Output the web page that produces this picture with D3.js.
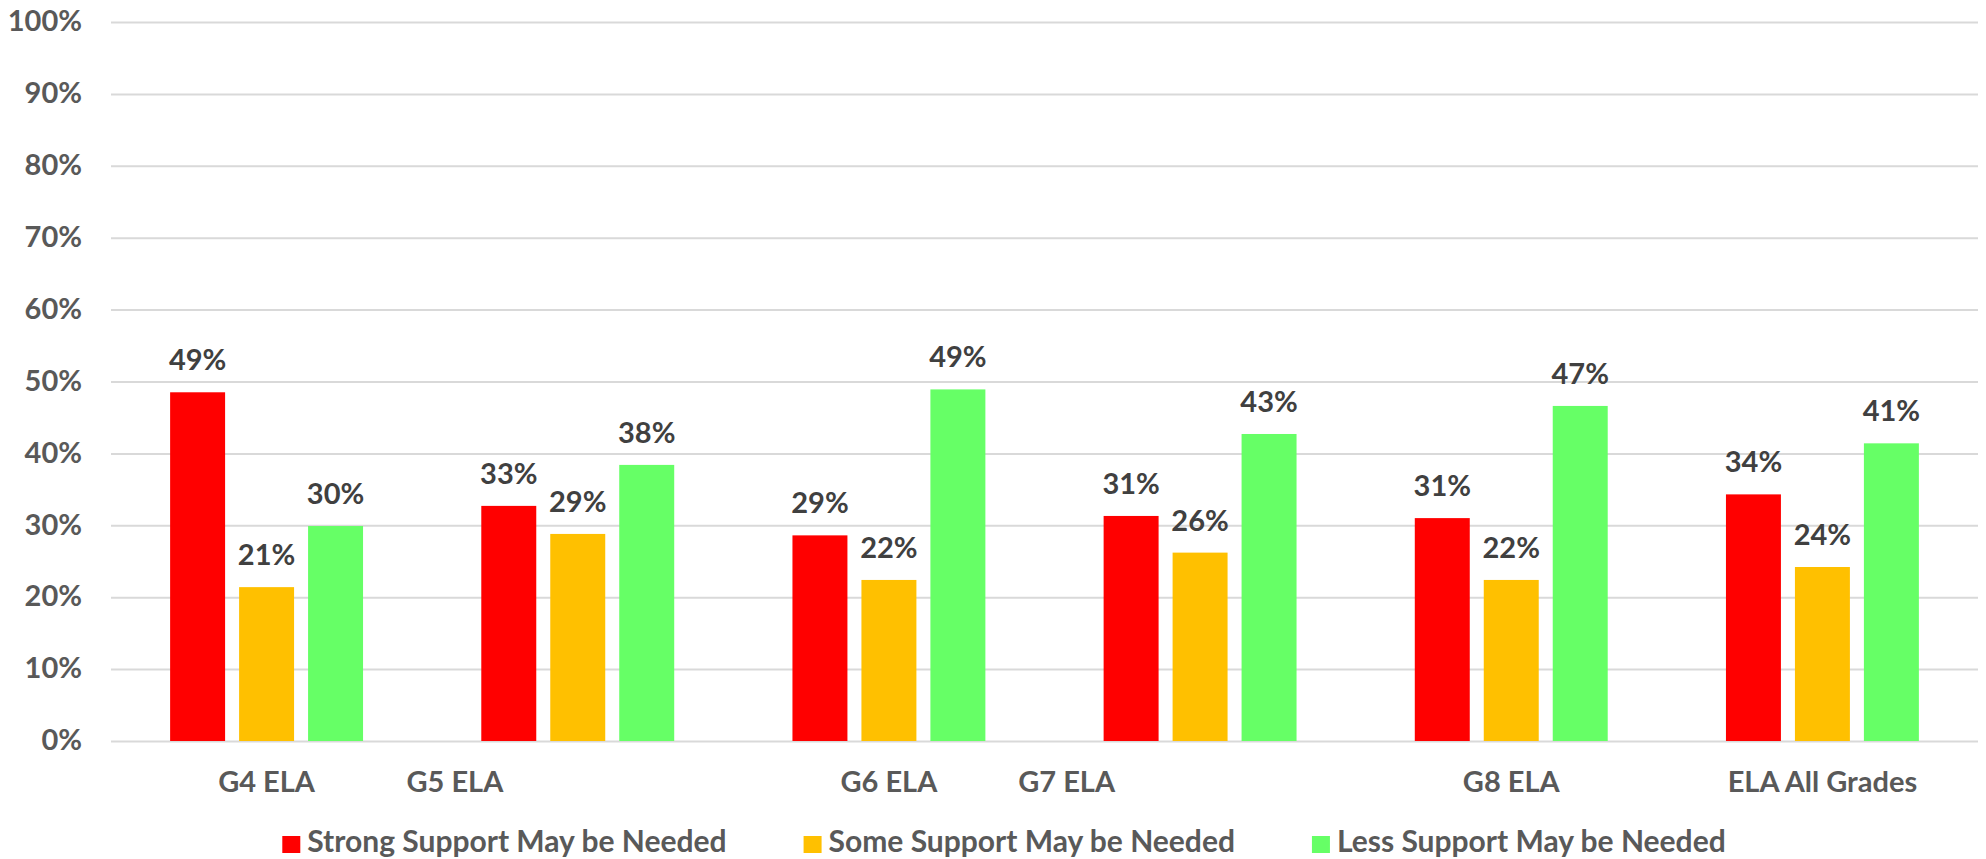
<!DOCTYPE html>
<html>
<head>
<meta charset="utf-8">
<script src="https://cdn.jsdelivr.net/npm/d3@7/dist/d3.min.js"></script>
<style>
    body { margin: 0; background: #fff; }
    svg { display: block; font-family: Lato, "Open Sans", sans-serif; font-weight: 700; }
</style>
</head>
<body>
<div id="chart"></div>
<script>
// category keys and the label text shown under each group
// (the G5 and G7 labels carry trailing spaces in the source, which pushes them left)
const categories = ['G4', 'G5', 'G6', 'G7', 'G8', 'All'];
const categoryLabels = [
    'G4 ELA',
    'G5 ELA' + '\u00a0'.repeat(35),
    'G6 ELA',
    'G7 ELA' + '\u00a0'.repeat(38),
    'G8 ELA',
    'ELA All Grades'
];

const series = ['Strong Support May be Needed', 'Some Support May be Needed', 'Less Support May be Needed'];
const seriesColors = ['#ff0000', '#ffc000', '#66ff66'];

// percent values per category
const strongSupport = [48.5, 32.7, 28.6, 31.3, 31.0, 34.3];
const someSupport = [21.4, 28.8, 22.4, 26.2, 22.4, 24.2];
const lessSupport = [29.9, 38.4, 48.9, 42.7, 46.6, 41.4];

const yTicks = [0, 10, 20, 30, 40, 50, 60, 70, 80, 90, 100];

const width = 1986;
const height = 859;
const fontSize = 29;
const plot = { left: 111, right: 1978, top: 22, bottom: 741 };

const seriesValues = [strongSupport, someSupport, lessSupport];
const rows = categories.map((c, i) => ({
    key: c,
    values: series.map((s, j) => ({ series: s, value: seriesValues[j][i], color: seriesColors[j] }))
}));

const svg = d3.select('#chart').append('svg')
    .attr('width', width)
    .attr('height', height);

const x0 = d3.scaleBand()
    .domain(categories)
    .range([plot.left, plot.right])
    .paddingInner(0.38)
    .paddingOuter(0.19);

const x1 = d3.scaleBand()
    .domain(series)
    .range([0, x0.bandwidth()])
    .paddingInner(0.203)
    .paddingOuter(0);

const y = d3.scaleLinear()
    .domain([0, 100])
    .range([plot.bottom, plot.top]);

// y axis with gridlines
const yAxis = svg.append('g')
    .attr('transform', `translate(${plot.left},0)`)
    .call(d3.axisLeft(y)
        .tickValues(yTicks)
        .tickSize(-(plot.right - plot.left))
        .tickPadding(29)
        .tickFormat(d => d + '%'))
    .attr('font-family', null)
    .attr('font-size', fontSize);

yAxis.select('.domain').remove();
yAxis.selectAll('.tick line')
    .attr('stroke', '#d9d9d9')
    .attr('stroke-width', 2);
yAxis.selectAll('.tick text')
    .attr('fill', '#595959')
    .attr('dy', '0.3em');

// x axis labels
const xAxis = svg.append('g')
    .attr('transform', `translate(0,${plot.bottom})`)
    .call(d3.axisBottom(x0)
        .tickSize(0)
        .tickPadding(30)
        .tickFormat((d, i) => categoryLabels[i]))
    .attr('font-family', null)
    .attr('font-size', fontSize);

xAxis.select('.domain').remove();
xAxis.selectAll('.tick text')
    .attr('fill', '#595959');

// bars
const group = svg.append('g')
    .selectAll('g')
    .data(rows)
    .join('g')
    .attr('transform', d => `translate(${x0(d.key)},0)`);

group.selectAll('rect')
    .data(d => d.values)
    .join('rect')
    .attr('x', d => x1(d.series))
    .attr('y', d => y(d.value))
    .attr('width', x1.bandwidth())
    .attr('height', d => y(0) - y(d.value))
    .attr('fill', d => d.color);

group.selectAll('text')
    .data(d => d.values)
    .join('text')
    .attr('x', d => x1(d.series) + x1.bandwidth() / 2)
    .attr('y', d => y(d.value) - 22)
    .attr('text-anchor', 'middle')
    .attr('fill', '#404040')
    .attr('font-size', fontSize)
    .text(d => Math.round(d.value) + '%');

// legend, laid out left to right and centred
const legend = svg.append('g');
const items = legend.selectAll('g')
    .data(series)
    .join('g');

items.append('rect')
    .attr('y', 836)
    .attr('width', 18)
    .attr('height', 17)
    .attr('fill', (d, i) => seriesColors[i]);

items.append('text')
    .attr('x', 25)
    .attr('y', 852)
    .attr('fill', '#595959')
    .attr('font-size', 30)
    .text(d => d);

let offset = 0;
items.each(function () {
    const w = d3.select(this).select('text').node().getComputedTextLength();
    d3.select(this).attr('transform', `translate(${offset},0)`);
    offset += 25 + w + 77;
});
const legendWidth = offset - 77;
legend.attr('transform', `translate(${1004 - legendWidth / 2},0)`);
</script>
</body>
</html>
